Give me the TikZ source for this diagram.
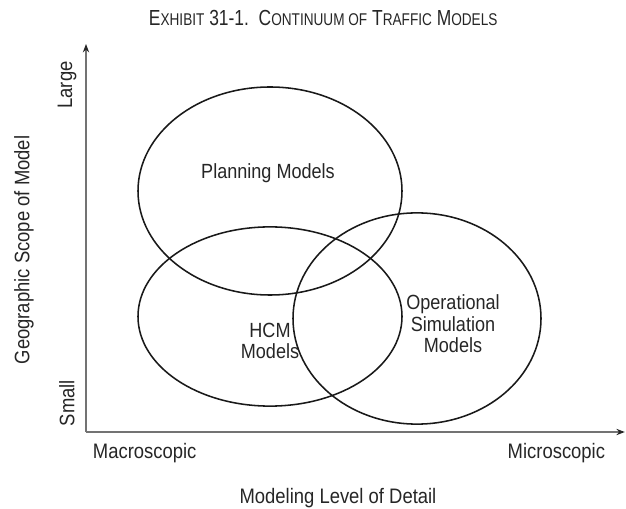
\documentclass[tikz,border=0pt]{standalone}
\usepackage{fontspec}
\setmainfont{Liberation Sans}[FakeStretch=0.88]
\newfontfamily\titlefont{Liberation Sans}[FakeStretch=0.8]
\usepackage{tikz}
\usetikzlibrary{arrows.meta,positioning,calc}

\newcommand{\smallcap}[2]{#1{\fontsize{12.1}{13}\selectfont #2}}

\tikzset{
  modeltext/.style={font=\fontsize{14.6}{15.4}\selectfont, align=center, text=black!85},
  axistext/.style={font=\fontsize{14.9}{15.4}\selectfont, text=black!85},
  axisline/.style={black!55, line width=0.9pt, -{Stealth[length=6pt,width=4.5pt,black!85]}},
  modelring/.style={line width=1.1pt, black!90}
}

\begin{document}
\begin{tikzpicture}
\useasboundingbox (0,0) rectangle (15.65,12.7);

% Title
\node[anchor=base, font=\titlefont\fontsize{15.5}{16}\selectfont, text=black!85] (title) at (8.08,12.05)
  {\smallcap{E}{XHIBIT} 31-1.\ \ \smallcap{C}{ONTINUUM OF} \smallcap{T}{RAFFIC} \smallcap{M}{ODELS}};

% Axes
\coordinate (origin) at (2.15,1.9);
\coordinate (ytip) at (2.15,11.6);
\coordinate (xtip) at (15.62,1.9);
\draw[axisline] (origin) -- (ytip);
\draw[axisline] (origin) -- (xtip);

% Axis labels
\node[axistext, rotate=90] (large) at (1.675,10.575) {Large};
\node[axistext, rotate=90] (small) at (1.675,2.625) {Small};
\node[axistext, rotate=90] (scope) at (0.6,6.45) {Geographic Scope of Model};
\node[axistext, anchor=base west] (macro) at (2.2,1.25) {Macroscopic};
\node[axistext, anchor=base east] (micro) at (15.25,1.25) {Microscopic};
\node[axistext, anchor=base] (detail) at (8.45,0.125) {Modeling Level of Detail};

% Planning models
\draw[modelring] (6.75,7.925) ellipse (3.3cm and 2.6cm);
\node[modeltext] (planning) at (6.7,8.375) {Planning Models};

% HCM models
\draw[modelring] (6.75,4.7875) ellipse (3.3cm and 2.24cm);
\node[modeltext] (hcm) at (6.75,4.175) {HCM\\Models};

% Operational simulation models
\draw[modelring] (10.425,4.7375) ellipse (3.1cm and 2.64cm);
\node[modeltext] (opsim) at (11.325,4.6) {Operational\\Simulation\\Models};
\end{tikzpicture}
\end{document}
